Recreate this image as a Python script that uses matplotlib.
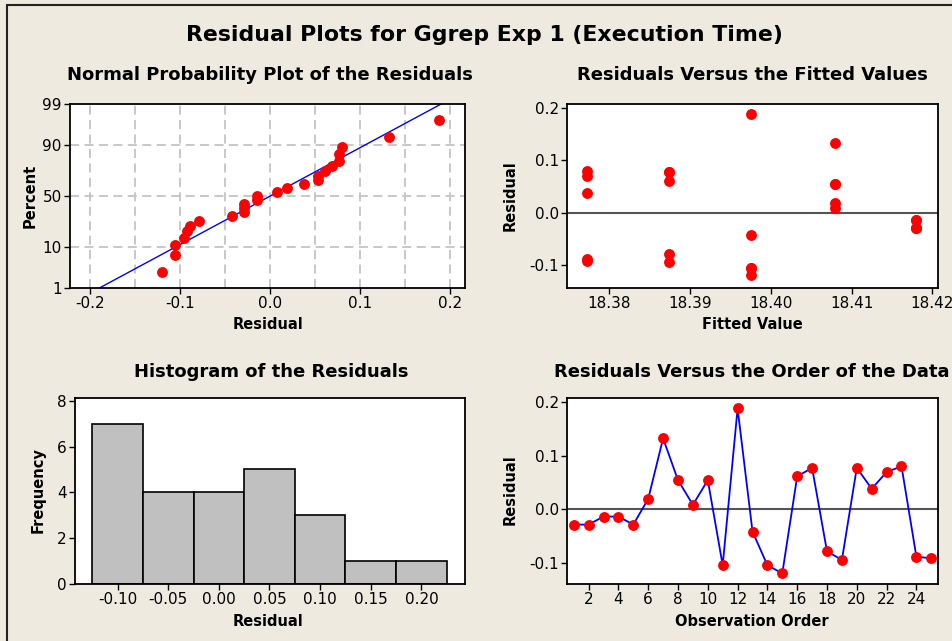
import matplotlib
matplotlib.use('Agg')
import matplotlib.pyplot as plt
import numpy as np
from statistics import NormalDist

# residuals in observation order
residuals = [-0.029, -0.029, -0.014, -0.014, -0.029,
             0.019, 0.132, 0.054, 0.008, 0.054,
             -0.105, 0.188, -0.042, -0.105, -0.120,
             0.061, 0.077, -0.079, -0.095, 0.077,
             0.038, 0.069, 0.080, -0.089, -0.092]

# fitted values for each observation
fitted = [18.4180, 18.4180, 18.4180, 18.4180, 18.4180,
          18.4079, 18.4079, 18.4079, 18.4079, 18.4079,
          18.3976, 18.3976, 18.3976, 18.3976, 18.3976,
          18.3874, 18.3874, 18.3874, 18.3874, 18.3874,
          18.3773, 18.3773, 18.3773, 18.3773, 18.3773]

observation = list(range(1, 26))

pct_ticks = [1, 10, 50, 90, 99]
hist_bins = [-0.125, -0.075, -0.025, 0.025, 0.075, 0.125, 0.175, 0.225]

BG = '#EEEAE0'
W, H = 952, 641
plt.rcParams['font.family'] = ['DejaVu Sans']

fig = plt.figure(figsize=(W / 100, H / 100), dpi=100, facecolor=BG)


def box(l, t, r, b):
    # axes rect from pixel edges
    return [l / W, 1 - b / H, (r - l) / W, (b - t) / H]


def ftext(x, y, s, **kw):
    fig.text(x / W, 1 - y / H, s, ha='center', va='center', **kw)


# outer frame
fig.patches.append(plt.Rectangle((7 / W, -0.1), 1.2, 1 - 5 / H + 0.1,
                                 transform=fig.transFigure, fill=False,
                                 edgecolor='#222222', linewidth=1.5))

ftext(484, 35, 'Residual Plots for Ggrep Exp 1 (Execution Time)',
      fontsize=15.8, fontweight='bold')

ax1 = fig.add_axes(box(70, 104, 465, 288))
ax2 = fig.add_axes(box(567, 104, 938, 288))
ax3 = fig.add_axes(box(75, 398, 465, 584))
ax4 = fig.add_axes(box(567, 398, 938, 584))

for ax in (ax1, ax2, ax3, ax4):
    ax.set_facecolor('white')
    for s in ax.spines.values():
        s.set_linewidth(1.3)
        s.set_color('black')
    ax.tick_params(labelsize=11, length=4, width=1, direction='out', pad=2)

nd = NormalDist()
r = np.array(residuals)
n = len(r)

# normal probability plot
srt = np.sort(r)
pos = (np.arange(1, n + 1) - 0.3) / (n + 0.4)
zpos = [nd.inv_cdf(p) for p in pos]
mu = r.mean()
sd = r.std(ddof=1)
zlo, zhi = nd.inv_cdf(0.01), nd.inv_cdf(0.99)
zline = np.linspace(zlo, zhi, 50)
for gx in np.arange(-0.2, 0.21, 0.05):
    ax1.axvline(gx, color='#C4C4C4', lw=1.3, ls=(0, (5, 3)), zorder=0)
for p in [10, 50, 90]:
    ax1.axhline(nd.inv_cdf(p / 100), color='#C4C4C4', lw=1.3, ls=(0, (5, 3)), zorder=0)
ax1.plot(mu + sd * zline, zline, color='blue', lw=1)
ax1.plot(srt, zpos, 'o', color='red', ms=6.8)
ax1.set_yticks([nd.inv_cdf(p / 100) for p in pct_ticks])
ax1.set_yticklabels([str(p) for p in pct_ticks])
ax1.set_ylim(zlo, zhi)
ax1.set_xlim(-0.222, 0.217)
ax1.set_xticks([-0.2, -0.1, 0.0, 0.1, 0.2])
ax1.set_xticklabels(['-0.2', '-0.1', '0.0', '0.1', '0.2'])

# residuals vs fitted
ax2.axhline(0, color='#555555', lw=1.5)
ax2.plot(fitted, residuals, 'o', color='red', ms=6.8)
ax2.set_xlim(18.3748, 18.4207)
ax2.set_xticks([18.38, 18.39, 18.40, 18.41, 18.42])
ax2.set_xticklabels(['18.38', '18.39', '18.40', '18.41', '18.42'])
ax2.set_ylim(-0.144, 0.207)
ax2.set_yticks([-0.1, 0.0, 0.1, 0.2])
ax2.set_yticklabels(['-0.1', '0.0', '0.1', '0.2'])

# histogram
ax3.hist(residuals, bins=hist_bins, color='#C0C0C0', edgecolor='black', lw=1.2)
ax3.set_xlim(-0.142, 0.243)
ax3.set_ylim(0, 8.12)
ax3.set_yticks([0, 2, 4, 6, 8])
ax3.set_xticks([-0.10, -0.05, 0.0, 0.05, 0.10, 0.15, 0.20])
ax3.set_xticklabels(['-0.10', '-0.05', '0.00', '0.05', '0.10', '0.15', '0.20'])

# residuals vs order
ax4.axhline(0, color='#555555', lw=1.5)
ax4.plot(observation, residuals, '-', color='blue', lw=1.3)
ax4.plot(observation, residuals, 'o', color='red', ms=6.8)
ax4.set_xlim(0.55, 25.45)
ax4.set_xticks(range(2, 26, 2))
ax4.set_ylim(-0.140, 0.2075)
ax4.set_yticks([-0.1, 0.0, 0.1, 0.2])
ax4.set_yticklabels(['-0.1', '0.0', '0.1', '0.2'])

# panel titles
ftext(270, 75, 'Normal Probability Plot of the Residuals', fontsize=13, fontweight='bold')
ftext(752, 75, 'Residuals Versus the Fitted Values', fontsize=13, fontweight='bold')
ftext(271, 372, 'Histogram of the Residuals', fontsize=13, fontweight='bold')
ftext(752, 372, 'Residuals Versus the Order of the Data', fontsize=13, fontweight='bold')

# axis labels
ftext(268, 325, 'Residual', fontsize=10.5, fontweight='bold')
ftext(752, 325, 'Fitted Value', fontsize=10.5, fontweight='bold')
ftext(268, 621, 'Residual', fontsize=10.5, fontweight='bold')
ftext(752, 621, 'Observation Order', fontsize=10.5, fontweight='bold')
ftext(30, 196, 'Percent', fontsize=10.5, fontweight='bold', rotation=90)
ftext(510, 196, 'Residual', fontsize=10.5, fontweight='bold', rotation=90)
ftext(38, 490, 'Frequency', fontsize=10.5, fontweight='bold', rotation=90)
ftext(510, 490, 'Residual', fontsize=10.5, fontweight='bold', rotation=90)

fig.savefig('out.png', dpi=100, facecolor=BG)
